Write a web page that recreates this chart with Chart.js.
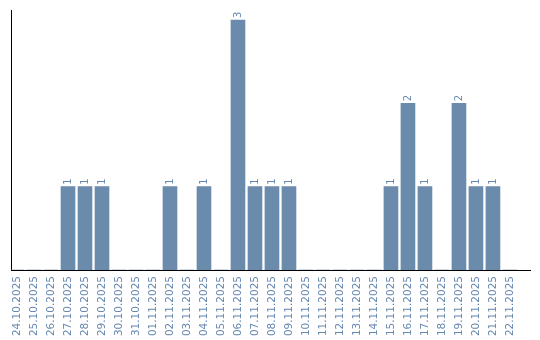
<!DOCTYPE html>
<html>
<head>
<meta charset="utf-8">
<script src="https://cdn.jsdelivr.net/npm/chart.js@4/dist/chart.umd.min.js"></script>
<style>
  html, body { margin: 0; padding: 0; background: #fff; }
  #wrap { width: 540px; height: 340px; }
</style>
</head>
<body>
<div id="wrap"><canvas id="chart"></canvas></div>
<script>
const dates = ['24.10.2025', '25.10.2025', '26.10.2025', '27.10.2025', '28.10.2025', '29.10.2025',
    '30.10.2025', '31.10.2025', '01.11.2025', '02.11.2025', '03.11.2025', '04.11.2025',
    '05.11.2025', '06.11.2025', '07.11.2025', '08.11.2025', '09.11.2025', '10.11.2025',
    '11.11.2025', '12.11.2025', '13.11.2025', '14.11.2025', '15.11.2025', '16.11.2025',
    '17.11.2025', '18.11.2025', '19.11.2025', '20.11.2025', '21.11.2025', '22.11.2025'];
const counts = [0, 0, 0, 1, 1, 1, 0, 0, 0, 1, 0, 1, 0, 3, 1, 1, 1, 0, 0, 0, 0, 0, 1, 2, 1, 0, 2, 1, 1, 0];

const barColor = '#6a8bab';
const textColor = '#6688b0';

// zahl über jedem balken, gedreht
const valueLabels = {
    id: 'valueLabels',
    afterDatasetsDraw(chart) {
        const ctx = chart.ctx;
        const meta = chart.getDatasetMeta(0);
        ctx.save();
        ctx.fillStyle = textColor;
        ctx.font = '10px "DejaVu Sans"';
        ctx.textAlign = 'left';
        ctx.textBaseline = 'middle';
        meta.data.forEach((bar, i) => {
            if (!counts[i]) return;
            ctx.save();
            ctx.translate(bar.x, bar.y - 2);
            ctx.rotate(-Math.PI / 2);
            ctx.fillText(String(counts[i]), 0, 0);
            ctx.restore();
        });
        ctx.restore();
    }
};

const ctx = document.getElementById('chart').getContext('2d');
new Chart(ctx, {
    type: 'bar',
    data: {
        datasets: [{
            data: counts.map((v, i) => ({ x: i, y: v })),
            backgroundColor: barColor,
            barThickness: 14
        }]
    },
    options: {
        responsive: true,
        maintainAspectRatio: false,
        animation: false,
        layout: {
            padding: { left: 11, top: 10, right: 10, bottom: 0 }
        },
        scales: {
            x: {
                type: 'linear',
                bounds: 'data',
                offset: false,
                min: -0.353,
                max: 30.18,
                grid: { display: false, drawTicks: false },
                border: { display: true, color: '#000', width: 1 },
                afterFit(scale) { scale.height = 70; },
                afterBuildTicks(scale) {
                    scale.ticks = dates.map((d, i) => ({ value: i }));
                },
                ticks: {
                    autoSkip: false,
                    minRotation: 90,
                    maxRotation: 90,
                    padding: 6,
                    color: textColor,
                    font: { family: '"DejaVu Sans"', size: 10.5 },
                    callback: function(value) {
                        return dates[value] ?? '';
                    }
                }
            },
            y: {
                min: 0,
                max: 3.12,
                grid: { display: false, drawTicks: false },
                border: { display: true, color: '#000', width: 1 },
                afterFit(scale) { scale.width = 0; },
                ticks: { display: false }
            }
        },
        plugins: {
            legend: { display: false },
            tooltip: { enabled: false }
        }
    },
    plugins: [valueLabels]
});
</script>
</body>
</html>
